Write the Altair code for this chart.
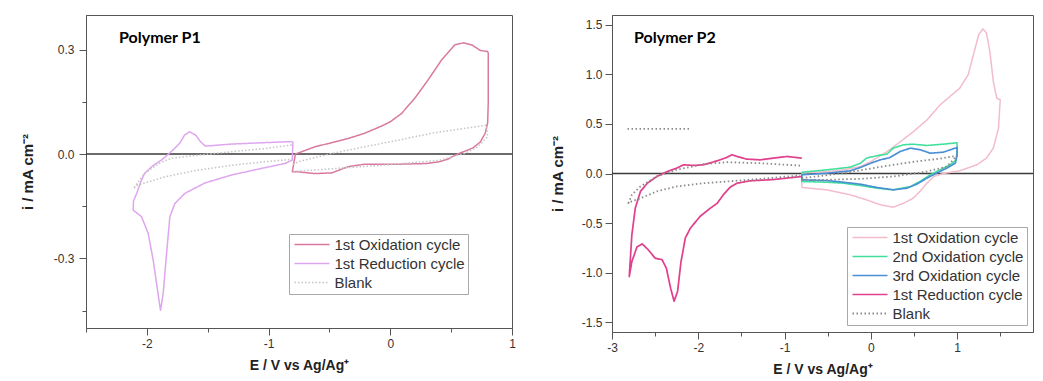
import altair as alt
import pandas as pd

# ---------------- Polymer P1 ----------------
P1_SERIES = ["1st Oxidation cycle", "1st Reduction cycle", "Blank"]
P1_COLORS = ["#d9799f", "#dea6ee", "#c4c4c4"]

P1_OX_E = [-0.78, -0.62, -0.48, -0.345, -0.21, -0.07, 0.0, 0.093, 0.20, 0.31, 0.42, 0.53, 0.60, 0.67, 0.74,
           0.80, 0.805, 0.805, 0.80, 0.78, 0.74, 0.68, 0.61, 0.55, 0.47, 0.40, 0.30, 0.066, -0.21, -0.345,
           -0.48, -0.62, -0.756, -0.805, -0.78]
P1_OX_I = [0.0, 0.021, 0.033, 0.045, 0.06, 0.081, 0.093, 0.117, 0.16, 0.213, 0.27, 0.314, 0.32, 0.314, 0.298,
           0.295, 0.29, 0.15, 0.09, 0.06, 0.035, 0.018, 0.008, 0.0, -0.015, -0.022, -0.027, -0.029, -0.029, -0.036,
           -0.054, -0.056, -0.051, -0.051, 0.0]

P1_RED_E = [-0.805, -1.03, -1.30, -1.52, -1.56, -1.60, -1.65, -1.69, -1.73, -1.80, -1.88, -1.96, -2.02, -2.05,
            -2.08, -2.11, -2.112, -2.044, -1.989, -1.948, -1.912, -1.888, -1.866, -1.838, -1.811, -1.77, -1.688,
            -1.523, -1.304, -1.03, -0.866, -0.805, -0.80]
P1_RED_I = [0.036, 0.033, 0.029, 0.023, 0.036, 0.055, 0.064, 0.055, 0.031, 0.007, -0.017, -0.036, -0.056, -0.08,
            -0.11, -0.135, -0.161, -0.180, -0.228, -0.305, -0.392, -0.449, -0.401, -0.286, -0.180, -0.142, -0.113,
            -0.083, -0.06, -0.039, -0.027, -0.017, 0.036]

P1_BLA_E = [-0.81, -1.03, -1.30, -1.58, -1.80, -1.90, -2.02, -2.11, -2.08, -1.85, -1.58, -1.30, -1.03, -0.81]
P1_BLA_I = [0.026, 0.016, 0.007, -0.003, -0.012, -0.027, -0.056, -0.099, -0.09, -0.065, -0.046, -0.032, -0.022, -0.015]
P1_BLB_E = [-0.80, -0.756, -0.48, -0.21, 0.066, 0.34, 0.61, 0.79, 0.80, 0.72, 0.61, 0.40, 0.0, -0.4, -0.8]
P1_BLB_I = [-0.03, -0.022, 0.002, 0.021, 0.04, 0.06, 0.074, 0.083, 0.05, 0.021, 0.002, -0.018, -0.03, -0.04, -0.05]

# ---------------- Polymer P2 ----------------
P2_SERIES = ["1st Oxidation cycle", "2nd Oxidation cycle", "3rd Oxidation cycle", "1st Reduction cycle", "Blank"]
P2_COLORS = ["#f3bccb", "#3ee09c", "#4a8fd6", "#e0408c", "#8a8a8a"]

P2_OX1_E = [-0.80, -0.51, -0.24, -0.05, 0.11, 0.26, 0.38, 0.49, 0.57, 0.65, 0.73, 0.84, 1.03, 1.23, 1.34, 1.42,
            1.48, 1.50, 1.46, 1.42, 1.38, 1.34, 1.30, 1.25, 1.19, 1.13, 1.03, 0.92, 0.80, 0.65, 0.49, 0.34, 0.22,
            0.0, -0.12, -0.32, -0.51, -0.80, -0.80]
P2_OX1_I = [-0.141, -0.165, -0.215, -0.266, -0.316, -0.34, -0.30, -0.25, -0.18, -0.098, -0.03, 0.0, 0.027, 0.088,
            0.155, 0.256, 0.458, 0.744, 0.76, 0.93, 1.23, 1.42, 1.46, 1.40, 1.20, 1.0, 0.86, 0.78, 0.69, 0.54, 0.42,
            0.32, 0.24, 0.12, 0.07, 0.037, 0.02, 0.003, -0.141]

P2_OX2_E = [-0.80, -0.51, -0.24, -0.12, -0.05, 0.07, 0.185, 0.26, 0.38, 0.49, 0.65, 0.84, 1.0, 1.0, 0.99, 0.92,
            0.80, 0.69, 0.57, 0.46, 0.26, 0.07, -0.12, -0.32, -0.51, -0.80, -0.80]
P2_OX2_I = [0.013, 0.037, 0.064, 0.104, 0.155, 0.18, 0.195, 0.256, 0.29, 0.296, 0.283, 0.296, 0.31, 0.24, 0.138,
            0.088, 0.037, -0.013, -0.08, -0.131, -0.165, -0.148, -0.121, -0.098, -0.088, -0.081, 0.013]

P2_OX3_E = [-0.80, -0.51, -0.24, -0.12, 0.0, 0.11, 0.22, 0.34, 0.46, 0.57, 0.69, 0.84, 1.0, 1.0, 0.98, 0.88,
            0.76, 0.65, 0.53, 0.42, 0.26, 0.07, -0.12, -0.32, -0.51, -0.80, -0.80]
P2_OX3_I = [-0.013, 0.003, 0.027, 0.061, 0.104, 0.138, 0.16, 0.222, 0.256, 0.24, 0.205, 0.215, 0.263, 0.19, 0.104,
            0.054, 0.003, -0.047, -0.108, -0.148, -0.165, -0.141, -0.108, -0.088, -0.071, -0.064, -0.013]

P2_RED_E = [-0.80, -0.97, -1.13, -1.28, -1.44, -1.55, -1.61, -1.67, -1.78, -1.94, -2.05, -2.17, -2.25, -2.36,
            -2.48, -2.59, -2.67, -2.73, -2.77, -2.80, -2.77, -2.71, -2.65, -2.58, -2.50, -2.42, -2.37, -2.32,
            -2.28, -2.24, -2.20, -2.15, -2.09, -1.98, -1.86, -1.78, -1.71, -1.63, -1.55, -1.40, -1.13, -0.80]
P2_RED_I = [0.155, 0.172, 0.155, 0.138, 0.145, 0.172, 0.19, 0.162, 0.128, 0.088, 0.081, 0.088, 0.054, 0.02,
            -0.03, -0.098, -0.18, -0.35, -0.62, -1.04, -0.89, -0.74, -0.71, -0.77, -0.855, -0.87, -0.956, -1.16,
            -1.29, -1.19, -0.89, -0.65, -0.55, -0.434, -0.35, -0.30, -0.215, -0.138, -0.098, -0.074, -0.061, -0.03]

P2_BLA_E = [-0.82, -1.28, -1.67, -1.94, -2.25, -2.48, -2.67, -2.77, -2.81, -2.77, -2.67, -2.48, -2.25, -1.94,
            -1.67, -1.28, -0.82]
P2_BLA_I = [0.08, 0.104, 0.114, 0.094, 0.037, -0.03, -0.13, -0.215, -0.30, -0.28, -0.25, -0.18, -0.131, -0.098,
            -0.081, -0.054, -0.02]
P2_BLB_E = [-0.80, -0.32, 0.07, 0.46, 0.84, 1.0, 0.88, 0.65, 0.26, -0.12, -0.51, -0.80]
P2_BLB_I = [-0.047, 0.003, 0.061, 0.114, 0.155, 0.18, 0.07, 0.02, -0.03, -0.054, -0.064, -0.064]
P2_BLC_E = [-2.82, -2.45, -2.10]
P2_BLC_I = [0.45, 0.45, 0.45]

Y_TITLE = "i / mA cm⁻²"
X_TITLE = "E / V vs Ag/Ag⁺"
P1_XTICKS = [-2.5, -2.0, -1.5, -1.0, -0.5, 0.0, 0.5, 1.0]
P1_YTICKS = [-0.45, -0.3, -0.15, 0.0, 0.15, 0.3]
P2_XTICKS = [-3.0, -2.5, -2.0, -1.5, -1.0, -0.5, 0.0, 0.5, 1.0, 1.5]
P2_YTICKS = [-1.5, -1.25, -1.0, -0.75, -0.5, -0.25, 0.0, 0.25, 0.5, 0.75, 1.0, 1.25, 1.5]


def build(rows):
    recs = []
    for series, seg, xs, ys in rows:
        for k, (x, y) in enumerate(zip(xs, ys)):
            recs.append({"series": series, "seg": series + seg, "idx": k, "E": x, "I": y})
    return pd.DataFrame(recs)


p1 = build([
    ("1st Oxidation cycle", "a", P1_OX_E, P1_OX_I),
    ("1st Reduction cycle", "a", P1_RED_E, P1_RED_I),
    ("Blank", "a", P1_BLA_E, P1_BLA_I),
    ("Blank", "b", P1_BLB_E, P1_BLB_I),
])
p2 = build([
    ("1st Oxidation cycle", "a", P2_OX1_E, P2_OX1_I),
    ("2nd Oxidation cycle", "a", P2_OX2_E, P2_OX2_I),
    ("3rd Oxidation cycle", "a", P2_OX3_E, P2_OX3_I),
    ("1st Reduction cycle", "a", P2_RED_E, P2_RED_I),
    ("Blank", "a", P2_BLA_E, P2_BLA_I),
    ("Blank", "b", P2_BLB_E, P2_BLB_I),
    ("Blank", "c", P2_BLC_E, P2_BLC_I),
])


def signed(fmt):
    return f"(datum.value < 0 ? '-' : '') + format(abs(datum.value), '{fmt}')"


def panel(df, series, colors, dashes, widths, xdom, ydom, xticks, yticks, ystep, yfmt,
          width, height, legx, legy, label, label_x, ytitle_pad, ylabel_pad):
    major_y = f"abs(datum.value/{ystep} - round(datum.value/{ystep})) < 0.001"
    major_x = "abs(datum.value - round(datum.value)) < 0.001"
    xaxis = alt.Axis(
        values=xticks, title=X_TITLE, titleFontSize=14, titlePadding=9,
        labelExpr=f"({major_x}) ? {signed('d')} : ''", labelFlush=False,
        tickSize={"condition": {"test": f"!({major_x})", "value": 4}, "value": 7},
        labelPadding=3,
    )
    yaxis = alt.Axis(
        values=yticks, title=Y_TITLE, titleFontSize=15, titlePadding=ytitle_pad,
        labelExpr=f"({major_y}) ? {signed(yfmt)} : ''", labelFlush=False,
        tickSize={"condition": {"test": f"!({major_y})", "value": 4}, "value": 7},
        labelPadding=ylabel_pad,
    )
    leg = alt.Legend(
        title=None, orient="none", legendX=legx, legendY=legy,
        strokeColor="#a8a8a8", fillColor="white", padding=3, cornerRadius=0,
        labelFont="Liberation Sans", labelFontSize=15, labelColor="#333333",
        symbolType="M-3.5,0H3.5", symbolSize=100, symbolStrokeWidth=1.8,
        symbolOffset=12.5, labelOffset=15, rowPadding=3, labelLimit=300,
    )
    lines = alt.Chart(df).mark_line(strokeJoin="round").encode(
        x=alt.X("E:Q", scale=alt.Scale(domain=xdom, nice=False, zero=False), axis=xaxis),
        y=alt.Y("I:Q", scale=alt.Scale(domain=ydom, nice=False, zero=False), axis=yaxis),
        color=alt.Color("series:N", scale=alt.Scale(domain=series, range=colors), legend=leg),
        strokeDash=alt.StrokeDash("series:N", scale=alt.Scale(domain=series, range=dashes), legend=leg),
        strokeWidth=alt.StrokeWidth("series:N", scale=alt.Scale(domain=series, range=widths), legend=None),
        detail="seg:N",
        order="idx:Q",
    )
    zero = alt.Chart(pd.DataFrame({"z": [0.0]})).mark_rule(color="#3a3a3a", strokeWidth=1.5).encode(
        y=alt.Y("z:Q")
    )
    txt = alt.Chart(pd.DataFrame({"t": [label]})).mark_text(
        align="left", baseline="alphabetic", font="Lato", fontWeight="bold", fontSize=16, color="#000000"
    ).encode(x=alt.value(label_x), y=alt.value(28), text="t:N")
    return alt.layer(zero, lines, txt).properties(width=width, height=height)


left = panel(
    p1, P1_SERIES, P1_COLORS, [[1, 0], [1, 0], [1.5, 2]], [1.5, 1.5, 1.2],
    [-2.5, 1.0], [-0.5, 0.4], P1_XTICKS, P1_YTICKS, 0.3, ".1f", 426, 313, 203, 219, "Polymer P1", 33, 18, 5,
)
right = panel(
    p2, P2_SERIES, P2_COLORS, [[1, 0], [1, 0], [1, 0], [1, 0], [1.5, 2.5]], [1.5, 1.8, 1.5, 2.0, 1.3],
    [-3.0, 1.88], [-1.6, 1.6], P2_XTICKS, P2_YTICKS, 0.5, ".1f", 421, 317, 235, 212, "Polymer P2", 22, 16, 3,
)

chart = alt.hconcat(left, right, spacing=33).resolve_scale(
    x="independent", y="independent", color="independent", strokeDash="independent", strokeWidth="independent"
).properties(
    padding={"left": 11, "top": 6, "right": 0, "bottom": 2}
).configure_view(
    stroke="#555555", strokeWidth=1
).configure_axis(
    grid=False, domainColor="#555555", tickColor="#555555", labelColor="#333333",
    labelFont="Liberation Sans", labelFontSize=12, titleFont="Liberation Sans",
    titleFontWeight="bold", titleColor="#222222",
)

chart.save("out.html", embed_options={"renderer": "svg", "actions": False})
